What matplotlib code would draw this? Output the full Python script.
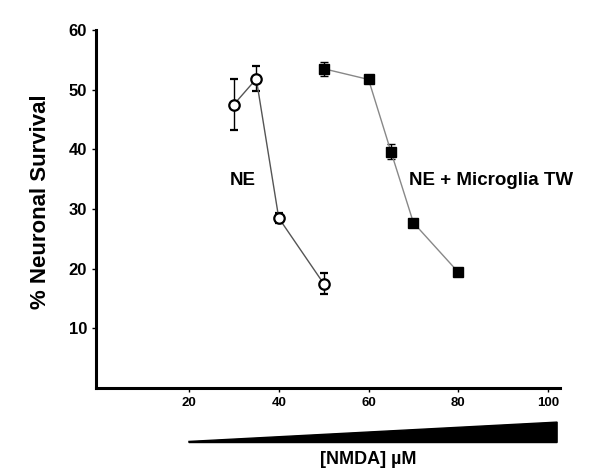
import matplotlib.pyplot as plt
from matplotlib.patches import Polygon
import matplotlib.transforms as mtransforms

plt.rcParams['font.family'] = ['Liberation Sans', 'DejaVu Sans']
plt.rcParams['font.weight'] = 'bold'

# NE alone
ne_nmda = [30, 35, 40, 50]
ne_survival = [47.5, 51.8, 28.5, 17.5]
ne_err = [4.2, 2.1, 0.9, 1.7]

# NE + microglia transwell
mg_nmda = [50, 60, 65, 70, 80]
mg_survival = [53.5, 51.7, 39.6, 27.7, 19.4]
mg_err = [1.2, 0.5, 1.3, 0.5, 0.5]

x_ticks = [20, 40, 60, 80, 100]
y_ticks = [10, 20, 30, 40, 50, 60]
wedge_range = [20, 102]

fig = plt.figure(figsize=(6, 4.75), dpi=100)
ax = fig.add_axes([0.16, 0.183, 0.773, 0.754])

ax.errorbar(ne_nmda, ne_survival, yerr=ne_err, fmt='-o', color='#555555', lw=1,
            mfc='white', mec='black', mew=1.6, ms=7.5, ecolor='black',
            elinewidth=1, capsize=3, zorder=3)
ax.errorbar(mg_nmda, mg_survival, yerr=mg_err, fmt='-s', color='#888888', lw=1,
            mfc='black', mec='black', ms=7.5, ecolor='black',
            elinewidth=1, capsize=3, zorder=3)

ax.text(29.1, 34.8, 'NE', ha='left', va='center', fontsize=13.5, fontweight='bold')
ax.text(69.1, 34.8, 'NE + Microglia TW', ha='left', va='center', fontsize=13.5,
        fontweight='bold')

ax.set_xlim(-0.7, 102.6)
ax.set_ylim(0, 60)
ax.set_xticks(x_ticks)
ax.set_yticks(y_ticks)
ax.tick_params(direction='out', length=3, width=1)
ax.tick_params(axis='x', labelsize=9.5)
ax.tick_params(axis='y', labelsize=12)
for lab in ax.get_xticklabels() + ax.get_yticklabels():
    lab.set_fontweight('bold')
for s in ['top', 'right']:
    ax.spines[s].set_visible(False)
for s in ['left', 'bottom']:
    ax.spines[s].set_linewidth(2.2)

ax.set_ylabel('% Neuronal Survival', fontsize=16, fontweight='bold')
ax.yaxis.set_label_coords(-0.097, 0.52)

# concentration wedge under the x axis
trans = mtransforms.blended_transform_factory(ax.transData, ax.transAxes)
wedge = Polygon([(wedge_range[0], -0.152), (wedge_range[1], -0.152),
                 (wedge_range[1], -0.095), (wedge_range[0], -0.149)],
                closed=True, facecolor='black', edgecolor='black',
                transform=trans, clip_on=False)
ax.add_patch(wedge)
ax.text(60, -0.2, '[NMDA] µM', transform=trans, ha='center', va='center',
        fontsize=13, fontweight='bold')

fig.savefig('out.png', dpi=100)
